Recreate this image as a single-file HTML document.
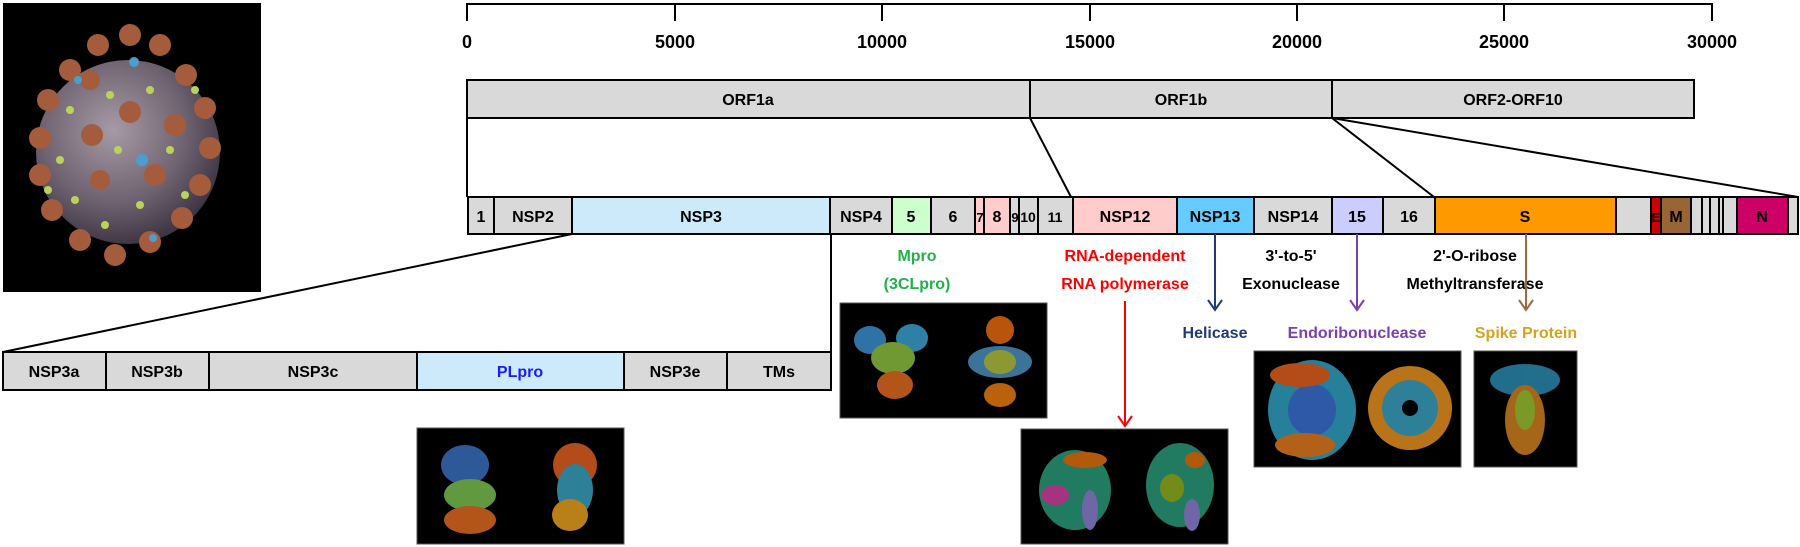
<!DOCTYPE html>
<html><head><meta charset="utf-8"><style>
html,body{margin:0;padding:0;background:#fff;width:1800px;height:547px;overflow:hidden}
svg{display:block}
text{font-family:"Liberation Sans",sans-serif;font-weight:bold}
</style></head><body>
<svg width="1800" height="547" viewBox="0 0 1800 547" xmlns="http://www.w3.org/2000/svg">
<defs>
<radialGradient id="sph" cx="0.42" cy="0.38" r="0.65">
<stop offset="0" stop-color="#a69aa6"/><stop offset="0.6" stop-color="#6f6371"/><stop offset="1" stop-color="#3a3240"/>
</radialGradient>
</defs>
<!-- virus -->
<rect x="3" y="3" width="258" height="289" fill="#000"/>
<circle cx="128" cy="152" r="92" fill="url(#sph)"/>
<g fill="#a45c3c">
<circle cx="40" cy="138" r="11"/><circle cx="48" cy="100" r="11"/><circle cx="70" cy="70" r="11"/><circle cx="98" cy="45" r="11"/><circle cx="130" cy="35" r="11"/><circle cx="160" cy="45" r="11"/><circle cx="186" cy="75" r="11"/><circle cx="205" cy="108" r="11"/><circle cx="210" cy="148" r="11"/><circle cx="200" cy="185" r="11"/><circle cx="182" cy="218" r="11"/><circle cx="150" cy="242" r="11"/><circle cx="115" cy="255" r="11"/><circle cx="80" cy="240" r="11"/><circle cx="52" cy="210" r="11"/><circle cx="40" cy="175" r="11"/><circle cx="130" cy="112" r="11"/><circle cx="92" cy="135" r="11"/><circle cx="175" cy="125" r="11"/><circle cx="155" cy="175" r="11"/><circle cx="100" cy="180" r="10"/><circle cx="90" cy="80" r="10"/>
</g>
<g fill="#b9d35a">
<circle cx="70" cy="110" r="4"/><circle cx="110" cy="95" r="4"/><circle cx="150" cy="90" r="4"/><circle cx="60" cy="160" r="4"/><circle cx="118" cy="150" r="4"/><circle cx="170" cy="150" r="4"/><circle cx="75" cy="200" r="4"/><circle cx="140" cy="205" r="4"/><circle cx="185" cy="195" r="4"/><circle cx="105" cy="225" r="4"/><circle cx="48" cy="190" r="4"/><circle cx="195" cy="90" r="4"/></g>
<g fill="#4a9fd0"><circle cx="142" cy="160" r="6"/><circle cx="134" cy="62" r="5"/><circle cx="78" cy="80" r="4"/><circle cx="153" cy="238" r="4"/></g>

<!-- axis -->
<g stroke="#000" stroke-width="2" fill="none">
<path d="M467 21 V4 H1712 V21"/>
<path d="M675 4 V21 M882 4 V21 M1090 4 V21 M1297 4 V21 M1504 4 V21"/>
</g>
<g font-size="18" text-anchor="middle" fill="#000">
<text x="467" y="48">0</text><text x="675" y="48">5000</text><text x="882" y="48">10000</text><text x="1090" y="48">15000</text><text x="1297" y="48">20000</text><text x="1504" y="48">25000</text><text x="1712" y="48">30000</text>
</g>

<!-- ORF row -->
<g stroke="#000" stroke-width="2" fill="#d9d9d9">
<rect x="467" y="80" width="563" height="38"/><rect x="1030" y="80" width="302" height="38"/><rect x="1332" y="80" width="362" height="38"/>
</g>
<g font-size="16" text-anchor="middle"><text x="748" y="105">ORF1a</text><text x="1181" y="105">ORF1b</text><text x="1513" y="105">ORF2-ORF10</text></g>
<g stroke="#000" stroke-width="2" fill="none">
<path d="M467 118 V197"/><path d="M1030 118 L1071 197"/><path d="M1332 118 L1434 197"/><path d="M1332 118 L1798 197"/>
<path d="M572 234 L3 352"/><path d="M831 234 V352"/>
</g>

<!-- main bar -->
<g stroke="#000" stroke-width="2">
<rect x="468" y="197" width="26" height="37" fill="#d9d9d9"/>
<rect x="494" y="197" width="78" height="37" fill="#d9d9d9"/>
<rect x="572" y="197" width="258" height="37" fill="#cdeafb"/>
<rect x="830" y="197" width="62" height="37" fill="#d9d9d9"/>
<rect x="892" y="197" width="39" height="37" fill="#ccffcc"/>
<rect x="931" y="197" width="44" height="37" fill="#d9d9d9"/>
<rect x="975" y="197" width="9" height="37" fill="#ffcccc"/>
<rect x="984" y="197" width="26" height="37" fill="#ffcccc"/>
<rect x="1010" y="197" width="9" height="37" fill="#d9d9d9"/>
<rect x="1019" y="197" width="19" height="37" fill="#d9d9d9"/>
<rect x="1038" y="197" width="35" height="37" fill="#d9d9d9"/>
<rect x="1073" y="197" width="104" height="37" fill="#ffcccc"/>
<rect x="1177" y="197" width="77" height="37" fill="#66ccff"/>
<rect x="1254" y="197" width="78" height="37" fill="#d9d9d9"/>
<rect x="1332" y="197" width="51" height="37" fill="#ccccff"/>
<rect x="1383" y="197" width="52" height="37" fill="#d9d9d9"/>
<rect x="1435" y="197" width="181" height="37" fill="#ff9900"/>
<rect x="1616" y="197" width="35" height="37" fill="#d9d9d9"/>
<rect x="1651" y="197" width="10" height="37" fill="#cc0000"/>
<rect x="1661" y="197" width="30" height="37" fill="#996633"/>
<rect x="1691" y="197" width="11" height="37" fill="#d9d9d9"/>
<rect x="1702" y="197" width="8" height="37" fill="#d9d9d9"/>
<rect x="1710" y="197" width="9" height="37" fill="#d9d9d9"/>
<rect x="1719" y="197" width="4" height="37" fill="#d9d9d9"/>
<rect x="1723" y="197" width="14" height="37" fill="#d9d9d9"/>
<rect x="1737" y="197" width="51" height="37" fill="#cc0066"/>
<rect x="1788" y="197" width="10" height="37" fill="#d9d9d9"/>
</g>
<g font-size="16" text-anchor="middle" fill="#000">
<text x="481" y="222">1</text><text x="533" y="222">NSP2</text><text x="701" y="222">NSP3</text><text x="861" y="222">NSP4</text><text x="911" y="222">5</text><text x="953" y="222">6</text>
<text x="980" y="222" font-size="13">7</text><text x="997" y="222">8</text><text x="1015" y="222" font-size="13">9</text><text x="1028" y="222" font-size="14">10</text><text x="1055" y="222" font-size="14">11</text>
<text x="1125" y="222">NSP12</text><text x="1215" y="222">NSP13</text><text x="1293" y="222">NSP14</text><text x="1357" y="222">15</text><text x="1409" y="222">16</text><text x="1525" y="222">S</text>
<text x="1656" y="222" font-size="13">E</text><text x="1676" y="222">M</text><text x="1762" y="222">N</text>
</g>

<!-- NSP3 sub bar -->
<g stroke="#000" stroke-width="2">
<rect x="3" y="352" width="103" height="38" fill="#d9d9d9"/>
<rect x="106" y="352" width="103" height="38" fill="#d9d9d9"/>
<rect x="209" y="352" width="208" height="38" fill="#d9d9d9"/>
<rect x="417" y="352" width="207" height="38" fill="#cdeafb"/>
<rect x="624" y="352" width="103" height="38" fill="#d9d9d9"/>
<rect x="727" y="352" width="104" height="38" fill="#d9d9d9"/>
</g>
<g font-size="16" text-anchor="middle">
<text x="54" y="377">NSP3a</text><text x="157" y="377">NSP3b</text><text x="313" y="377">NSP3c</text><text x="520" y="377" fill="#1a1aff">PLpro</text><text x="675" y="377">NSP3e</text><text x="779" y="377">TMs</text>
</g>

<!-- labels -->
<g font-size="16" text-anchor="middle">
<text x="917" y="261" fill="#22b04a">Mpro</text><text x="917" y="289" fill="#22b04a">(3CLpro)</text>
<text x="1125" y="261" fill="#ff0000">RNA-dependent</text><text x="1125" y="289" fill="#ff0000">RNA polymerase</text>
<text x="1291" y="261">3'-to-5'</text><text x="1291" y="289">Exonuclease</text>
<text x="1475" y="261">2'-O-ribose</text><text x="1475" y="289">Methyltransferase</text>
<text x="1215" y="338" fill="#1f3a7a">Helicase</text>
<text x="1357" y="338" fill="#7a3fb0">Endoribonuclease</text>
<text x="1526" y="338" fill="#d9a21c">Spike Protein</text>
</g>
<!-- arrows -->
<g fill="none" stroke-width="2">
<path d="M1215 234 V310 M1208 300 L1215 310 L1222 300" stroke="#1f3a7a"/>
<path d="M1357 234 V310 M1350 300 L1357 310 L1364 300" stroke="#7a3fb0"/>
<path d="M1526 234 V310 M1519 300 L1526 310 L1533 300" stroke="#a06a40"/>
<path d="M1125 301 V426 M1118 416 L1125 426 L1132 416" stroke="#ff0000"/>
</g>

<!-- protein images -->
<g stroke="#555" stroke-width="1">
<rect x="840" y="303" width="207" height="115" fill="#000"/>
<rect x="417" y="428" width="207" height="116" fill="#000"/>
<rect x="1021" y="429" width="207" height="115" fill="#000"/>
<rect x="1254" y="351" width="207" height="116" fill="#000"/>
<rect x="1474" y="351" width="103" height="116" fill="#000"/>
</g>
<g opacity="0.8">
<ellipse cx="870" cy="340" rx="16" ry="14" fill="#3a8fd0"/><ellipse cx="912" cy="338" rx="16" ry="14" fill="#3aa0d0"/><ellipse cx="893" cy="358" rx="22" ry="16" fill="#8cc040"/><ellipse cx="895" cy="385" rx="18" ry="14" fill="#e06a20"/>
<ellipse cx="1000" cy="330" rx="14" ry="14" fill="#e86a10"/><ellipse cx="1000" cy="362" rx="32" ry="16" fill="#4a90c0"/><ellipse cx="1000" cy="362" rx="16" ry="12" fill="#b0c040"/><ellipse cx="1000" cy="395" rx="16" ry="12" fill="#e87a10"/>
<ellipse cx="465" cy="465" rx="24" ry="20" fill="#3a70c0"/><ellipse cx="470" cy="495" rx="26" ry="16" fill="#7ac050"/><ellipse cx="470" cy="520" rx="26" ry="14" fill="#e06a20"/>
<ellipse cx="575" cy="465" rx="22" ry="22" fill="#e06020"/><ellipse cx="575" cy="490" rx="18" ry="26" fill="#3aa0c0"/><ellipse cx="570" cy="515" rx="18" ry="16" fill="#e8a020"/>
<ellipse cx="1075" cy="490" rx="36" ry="40" fill="#2a9a7a"/><ellipse cx="1085" cy="460" rx="22" ry="8" fill="#e07010"/><ellipse cx="1055" cy="495" rx="14" ry="10" fill="#d040a0"/><ellipse cx="1090" cy="510" rx="8" ry="20" fill="#8a80d0"/>
<ellipse cx="1180" cy="485" rx="34" ry="42" fill="#2a9a7a"/><ellipse cx="1172" cy="488" rx="12" ry="14" fill="#90b020"/><ellipse cx="1192" cy="515" rx="8" ry="16" fill="#8a80d0"/><ellipse cx="1195" cy="460" rx="10" ry="8" fill="#e07010"/>
<ellipse cx="1312" cy="410" rx="44" ry="50" fill="#30a0c0"/><ellipse cx="1312" cy="410" rx="24" ry="26" fill="#3a70d0"/><ellipse cx="1300" cy="375" rx="30" ry="12" fill="#e06020"/><ellipse cx="1305" cy="445" rx="30" ry="12" fill="#e07a20"/>
<ellipse cx="1410" cy="408" rx="42" ry="42" fill="#e89020"/><ellipse cx="1410" cy="408" rx="28" ry="28" fill="#3aa0c0"/><circle cx="1410" cy="408" r="8" fill="#000"/>
<ellipse cx="1525" cy="380" rx="35" ry="16" fill="#2a8ab0"/><ellipse cx="1525" cy="420" rx="20" ry="35" fill="#d08020"/><ellipse cx="1525" cy="410" rx="10" ry="20" fill="#9ac030"/>
</g>
</svg>
</body></html>
